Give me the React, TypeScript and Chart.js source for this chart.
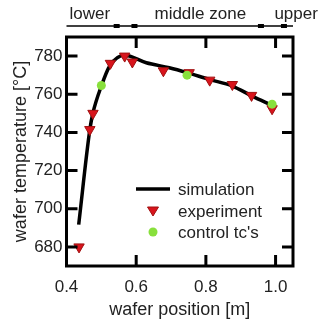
import React, { useEffect, useRef } from "react";
import { Chart, registerables } from "chart.js";

Chart.register(...registerables);

// ---- data ----
const simX = [0.435, 0.467, 0.476, 0.5, 0.524, 0.567, 0.629, 0.695, 0.747, 0.809, 0.876, 0.933, 0.99];
const simY = [691.7, 741.5, 750.3, 764.3, 774.8, 780.4, 776.5, 773.9, 771.3, 767.8, 764.3, 759.0, 754.1];

const expX = [0.436, 0.467, 0.476, 0.526, 0.567, 0.589, 0.678, 0.752, 0.811, 0.876, 0.931, 0.99];
const expY = [680.0, 741.5, 750.0, 776.2, 780.0, 776.9, 772.3, 771.3, 767.4, 765.1, 759.4, 752.4];

const tcX = [0.5, 0.746, 0.99];
const tcY = [764.6, 770.0, 754.8];

const xTicks = [0.4, 0.6, 0.8, 1.0];
const yTicks = [680, 700, 720, 740, 760, 780];

const zoneLabels = ["lower", "middle zone", "upper"];
const zoneLabelX = [0.467, 0.784, 1.059];
const zoneMarksX = [0.544, 0.595, 0.958, 1.024];

const legendLabels = ["simulation", "experiment", "control tc's"];

const FONT = "'Liberation Sans', Arial, sans-serif";
const RED = "#d8141c";
const RED_BORDER = "#a01010";
const GREEN = "#88e03c";

const framePlugin = {
  id: "framePlugin",
  afterDraw(chart: any) {
    const { ctx, chartArea } = chart;
    const xs = chart.scales.x;
    const ys = chart.scales.y;
    const { left, right, top, bottom } = chartArea;
    ctx.save();
    ctx.strokeStyle = "#000";
    ctx.lineWidth = 3;
    ctx.strokeRect(left, top, right - left, bottom - top);
    const tl = 11;
    ctx.beginPath();
    for (const v of xTicks) {
      const px = xs.getPixelForValue(v);
      if (px <= left + 2) continue;
      ctx.moveTo(px, bottom);
      ctx.lineTo(px, bottom - tl);
      ctx.moveTo(px, top);
      ctx.lineTo(px, top + tl);
    }
    for (const v of yTicks) {
      const py = ys.getPixelForValue(v);
      ctx.moveTo(left, py);
      ctx.lineTo(left + tl, py);
      ctx.moveTo(right, py);
      ctx.lineTo(right - tl, py);
    }
    ctx.stroke();

    // zone line on top
    const zy = 26;
    ctx.lineWidth = 1.5;
    ctx.beginPath();
    ctx.moveTo(left, zy);
    ctx.lineTo(right, zy);
    ctx.stroke();
    ctx.fillStyle = "#000";
    for (const v of zoneMarksX) {
      const px = xs.getPixelForValue(v);
      ctx.fillRect(px - 3, zy - 2, 6, 4);
    }
    ctx.font = `17px ${FONT}`;
    ctx.fillStyle = "#222";
    ctx.textAlign = "center";
    ctx.textBaseline = "middle";
    zoneLabels.forEach((t, i) => {
      ctx.fillText(t, xs.getPixelForValue(zoneLabelX[i]), 14);
    });

    // legend
    const lx = 136;
    const tx = 178;
    const rows = [189, 211, 232];
    ctx.textAlign = "left";
    ctx.font = `17px ${FONT}`;
    // line
    ctx.strokeStyle = "#000";
    ctx.lineWidth = 3.5;
    ctx.beginPath();
    ctx.moveTo(lx, rows[0]);
    ctx.lineTo(lx + 34, rows[0]);
    ctx.stroke();
    // triangle
    const cx = lx + 17;
    ctx.fillStyle = RED;
    ctx.strokeStyle = RED_BORDER;
    ctx.lineWidth = 1;
    ctx.beginPath();
    ctx.moveTo(cx - 5.5, rows[1] - 4);
    ctx.lineTo(cx + 5.5, rows[1] - 4);
    ctx.lineTo(cx, rows[1] + 5);
    ctx.closePath();
    ctx.fill();
    ctx.stroke();
    // circle
    ctx.fillStyle = GREEN;
    ctx.beginPath();
    ctx.arc(cx, rows[2], 4.5, 0, Math.PI * 2);
    ctx.fill();
    ctx.fillStyle = "#222";
    legendLabels.forEach((t, i) => ctx.fillText(t, tx, rows[i] + 1));
    ctx.restore();
  },
};

export default function App() {
  const ref = useRef<HTMLCanvasElement | null>(null);
  useEffect(() => {
    if (!ref.current) return;
    const chart = new Chart(ref.current, {
      type: "scatter",
      data: {
        datasets: [
          {
            label: legendLabels[1],
            data: expX.map((x, i) => ({ x, y: expY[i] })),
            pointStyle: "triangle",
            rotation: 180,
            radius: 6,
            backgroundColor: RED,
            borderColor: RED_BORDER,
            borderWidth: 1,
            order: 1,
          } as any,
          {
            label: legendLabels[2],
            data: tcX.map((x, i) => ({ x, y: tcY[i] })),
            pointStyle: "circle",
            radius: 4.5,
            backgroundColor: GREEN,
            borderColor: GREEN,
            borderWidth: 0,
            order: 0,
          } as any,
          {
            label: legendLabels[0],
            type: "line",
            data: simX.map((x, i) => ({ x, y: simY[i] })),
            borderColor: "#000",
            borderWidth: 3.5,
            pointRadius: 0,
            showLine: true,
            fill: false,
            cubicInterpolationMode: "monotone",
            order: 2,
          } as any,
        ],
      },
      options: {
        animation: false,
        responsive: true,
        maintainAspectRatio: false,
        layout: { padding: { top: 37, right: 34, left: 0, bottom: 0 } },
        plugins: { legend: { display: false }, tooltip: { enabled: false } },
        scales: {
          x: {
            type: "linear",
            min: 0.4,
            max: 1.05,
            grid: { display: false, drawTicks: false },
            border: { display: false },
            afterBuildTicks: (s: any) => {
              s.ticks = xTicks.map((v) => ({ value: v }));
            },
            afterFit: (s: any) => {
              s.height = 61;
            },
            ticks: {
              padding: 11,
              color: "#222",
              font: { family: FONT, size: 17 },
              maxRotation: 0,
              callback: (v: any) => Number(v).toFixed(1),
            },
            title: {
              display: true,
              text: "wafer position [m]",
              color: "#222",
              font: { family: FONT, size: 18 },
              padding: { top: 0, bottom: 6 },
            },
          },
          y: {
            type: "linear",
            min: 670,
            max: 790,
            grid: { display: false, drawTicks: false },
            border: { display: false },
            afterBuildTicks: (s: any) => {
              s.ticks = yTicks.map((v) => ({ value: v }));
            },
            afterFit: (s: any) => {
              s.width = 66.5;
            },
            ticks: {
              padding: 4,
              color: "#222",
              font: { family: FONT, size: 17 },
            },
            title: {
              display: true,
              text: "wafer temperature [°C]",
              color: "#222",
              font: { family: FONT, size: 18 },
              padding: { top: 10, bottom: 0 },
            },
          },
        },
      },
      plugins: [framePlugin],
    });
    return () => chart.destroy();
  }, []);
  return (
    <div style={{ position: "absolute", left: 0, top: 0, width: 327, height: 327, background: "#fff" }}>
      <canvas ref={ref} />
    </div>
  );
}
